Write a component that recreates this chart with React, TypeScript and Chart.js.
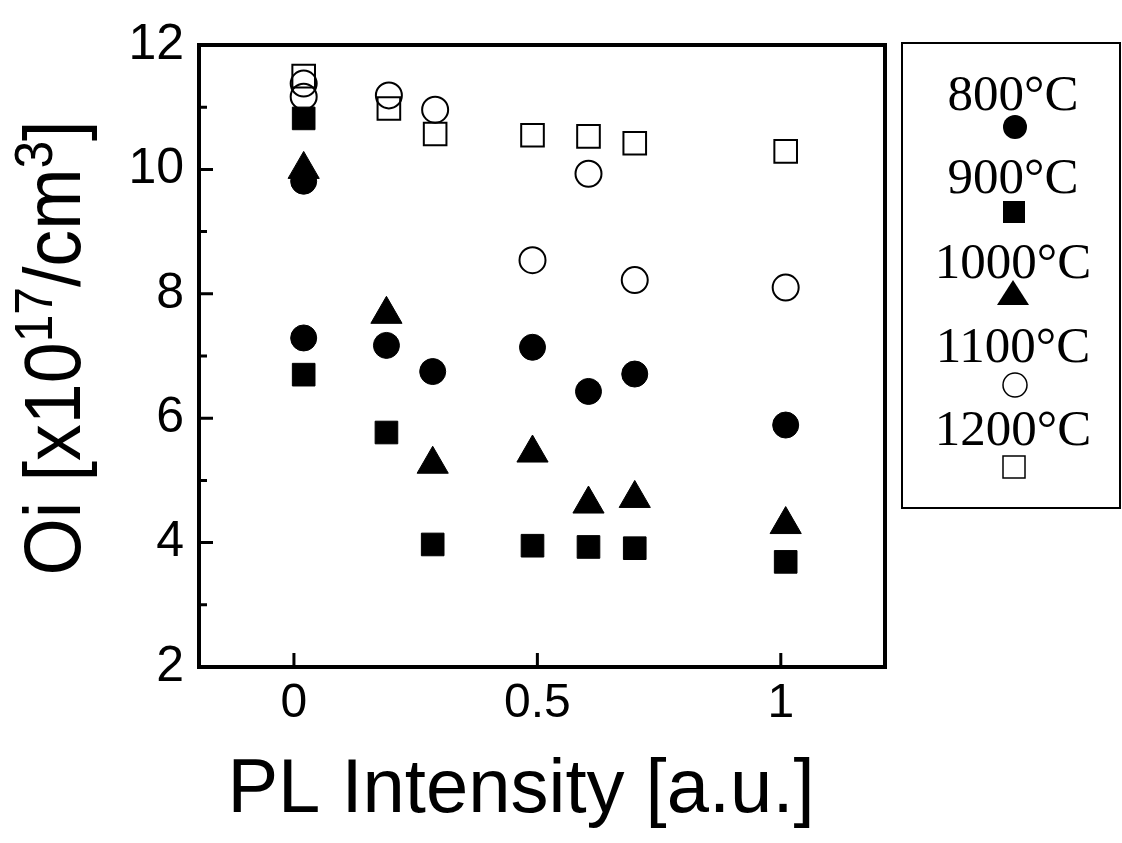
import React, { useEffect, useRef } from "react";
import { Chart, registerables } from "chart.js";

Chart.register(...registerables);

// ---- data ----
const seriesLabels = ["800°C", "900°C", "1000°C", "1100°C", "1200°C"];
const x800 = [0.02, 0.02, 0.19, 0.285, 0.49, 0.605, 0.7, 1.01];
const y800 = [9.81, 7.29, 7.17, 6.75, 7.14, 6.43, 6.71, 5.89];
const x900 = [0.02, 0.02, 0.19, 0.285, 0.49, 0.605, 0.7, 1.01];
const y900 = [10.82, 6.7, 5.77, 3.97, 3.95, 3.93, 3.91, 3.69];
const x1000 = [0.02, 0.19, 0.285, 0.49, 0.605, 0.7, 1.01];
const y1000 = [10.0, 7.67, 5.26, 5.44, 4.62, 4.71, 4.29];
const x1100 = [0.02, 0.02, 0.195, 0.29, 0.49, 0.605, 0.7, 1.01];
const y1100 = [11.38, 11.17, 11.19, 10.96, 8.54, 9.93, 8.22, 8.1];
const x1200 = [0.02, 0.195, 0.29, 0.49, 0.605, 0.7, 1.01];
const y1200 = [11.5, 10.98, 10.57, 10.55, 10.53, 10.42, 10.29];

const xTickValues = [0, 0.5, 1];
const yTickValues = [2, 4, 6, 8, 10, 12];
const yMinorTickValues = [3, 5, 7, 9, 11];

const xTitle = "PL Intensity [a.u.]";
const yTitleParts = [
  { t: "Oi [x10", sup: false },
  { t: "17", sup: true },
  { t: "/cm", sup: false },
  { t: "3", sup: true },
  { t: "]", sup: false },
];

const SANS = "'Liberation Sans', Arial, Helvetica, sans-serif";
const SERIF = "'Liberation Serif', 'Times New Roman', serif";

const pts = (xs: number[], ys: number[]) => xs.map((x, i) => ({ x, y: ys[i] }));

const framePlugin = {
  id: "frameTicks",
  afterDatasetsDraw(chart: any) {
    const { ctx, chartArea: a, scales } = chart;
    const xs = scales.x;
    const ys = scales.y;
    ctx.save();
    ctx.strokeStyle = "#000";
    ctx.lineWidth = 4;
    ctx.strokeRect(a.left, a.top, a.right - a.left, a.bottom - a.top);
    ctx.lineWidth = 3;
    ctx.beginPath();
    for (const v of yTickValues) {
      const y = ys.getPixelForValue(v);
      ctx.moveTo(a.left, y);
      ctx.lineTo(a.left + 14, y);
    }
    for (const v of yMinorTickValues) {
      const y = ys.getPixelForValue(v);
      ctx.moveTo(a.left, y);
      ctx.lineTo(a.left + 8, y);
    }
    for (const v of xTickValues) {
      const x = xs.getPixelForValue(v);
      ctx.moveTo(x, a.bottom);
      ctx.lineTo(x, a.bottom - 14);
    }
    ctx.stroke();
    ctx.restore();
  },
};

const titlesPlugin = {
  id: "titles",
  afterDraw(chart: any) {
    const { ctx } = chart;
    ctx.save();
    ctx.fillStyle = "#000";
    // x title
    ctx.font = `76px ${SANS}`;
    ctx.textAlign = "center";
    ctx.textBaseline = "alphabetic";
    ctx.fillText(xTitle, 521, 812);

    // y title with superscripts
    const mainFont = `80px ${SANS}`;
    const supFont = `54px ${SANS}`;
    let total = 0;
    const widths = yTitleParts.map((p) => {
      ctx.font = p.sup ? supFont : mainFont;
      const w = ctx.measureText(p.t).width;
      total += w;
      return w;
    });
    ctx.translate(80, 348);
    ctx.rotate(-Math.PI / 2);
    ctx.scale(0.92, 1);
    ctx.textAlign = "left";
    let x = -total / 2;
    yTitleParts.forEach((p, i) => {
      ctx.font = p.sup ? supFont : mainFont;
      ctx.fillText(p.t, x, p.sup ? -28 : 0);
      x += widths[i];
    });
    ctx.restore();
  },
};

const legendPlugin = {
  id: "customLegend",
  afterDraw(chart: any) {
    const { ctx } = chart;
    ctx.save();
    ctx.strokeStyle = "#000";
    ctx.lineWidth = 2;
    ctx.strokeRect(902, 43, 218, 465);
    ctx.fillStyle = "#000";
    ctx.font = `51px ${SERIF}`;
    ctx.textAlign = "center";
    ctx.textBaseline = "alphabetic";
    const baselines = [110, 193, 278, 362, 445];
    seriesLabels.forEach((lab, i) => ctx.fillText(lab, 1013, baselines[i]));
    ctx.lineWidth = 1.5;
    // 800: filled circle
    ctx.beginPath();
    ctx.arc(1015, 127, 12, 0, Math.PI * 2);
    ctx.fill();
    // 900: filled square
    ctx.fillRect(1003, 201, 22, 22);
    // 1000: filled triangle
    ctx.beginPath();
    ctx.moveTo(1013, 280);
    ctx.lineTo(1029, 305);
    ctx.lineTo(997, 305);
    ctx.closePath();
    ctx.fill();
    // 1100: open circle
    ctx.beginPath();
    ctx.arc(1015, 385, 12, 0, Math.PI * 2);
    ctx.stroke();
    // 1200: open square
    ctx.strokeRect(1003, 456, 22, 22);
    ctx.restore();
  },
};

export default function App() {
  const ref = useRef<HTMLCanvasElement | null>(null);

  useEffect(() => {
    document.body.style.margin = "0";
    document.body.style.background = "#fff";
    if (!ref.current) return;
    const filled = "#000";
    const open = "rgba(0,0,0,0)";
    const chart = new Chart(ref.current, {
      type: "scatter",
      data: {
        datasets: [
          {
            label: seriesLabels[3],
            data: pts(x1100, y1100),
            pointStyle: "circle",
            pointRadius: 13,
            backgroundColor: open,
            borderColor: "#000",
            borderWidth: 2,
            order: 0,
          },
          {
            label: seriesLabels[4],
            data: pts(x1200, y1200),
            pointStyle: "rect",
            pointRadius: 16,
            backgroundColor: open,
            borderColor: "#000",
            borderWidth: 2,
            order: 1,
          },
          {
            label: seriesLabels[0],
            data: pts(x800, y800),
            pointStyle: "circle",
            pointRadius: 13,
            backgroundColor: filled,
            borderColor: "#000",
            borderWidth: 1,
            order: 2,
          },
          {
            label: seriesLabels[1],
            data: pts(x900, y900),
            pointStyle: "rect",
            pointRadius: 16,
            backgroundColor: filled,
            borderColor: "#000",
            borderWidth: 1,
            order: 3,
          },
          {
            label: seriesLabels[2],
            data: pts(x1000, y1000),
            pointStyle: "triangle",
            pointRadius: 18,
            backgroundColor: filled,
            borderColor: "#000",
            borderWidth: 1,
            order: 4,
          },
        ],
      },
      options: {
        responsive: false,
        animation: false,
        events: [],
        layout: { padding: { left: 0, top: 34, right: 237, bottom: 0 } },
        plugins: {
          legend: { display: false },
          tooltip: { enabled: false },
          title: { display: false },
        },
        scales: {
          x: {
            type: "linear",
            min: -0.195,
            max: 1.214,
            grid: { display: false, drawTicks: false },
            border: { display: false },
            afterBuildTicks: (s: any) => {
              s.ticks = xTickValues.map((v) => ({ value: v }));
            },
            afterFit: (s: any) => {
              s.height = 176;
            },
            ticks: {
              color: "#000",
              font: { size: 48, family: SANS },
              padding: 8,
              maxRotation: 0,
              autoSkip: false,
              callback: (v: any) => String(v),
            },
          },
          y: {
            type: "linear",
            min: 2,
            max: 12,
            grid: { display: false, drawTicks: false },
            border: { display: false },
            afterBuildTicks: (s: any) => {
              s.ticks = yTickValues.map((v) => ({ value: v }));
            },
            afterFit: (s: any) => {
              s.width = 199;
            },
            ticks: {
              color: "#000",
              font: { size: 50, family: SANS },
              padding: 15,
              autoSkip: false,
              callback: (v: any) => String(v),
            },
          },
        },
      },
      plugins: [framePlugin, titlesPlugin, legendPlugin],
    });
    return () => chart.destroy();
  }, []);

  return (
    <div style={{ width: 1122, height: 843, background: "#fff" }}>
      <canvas ref={ref} width={1122} height={843} style={{ display: "block" }} />
    </div>
  );
}
